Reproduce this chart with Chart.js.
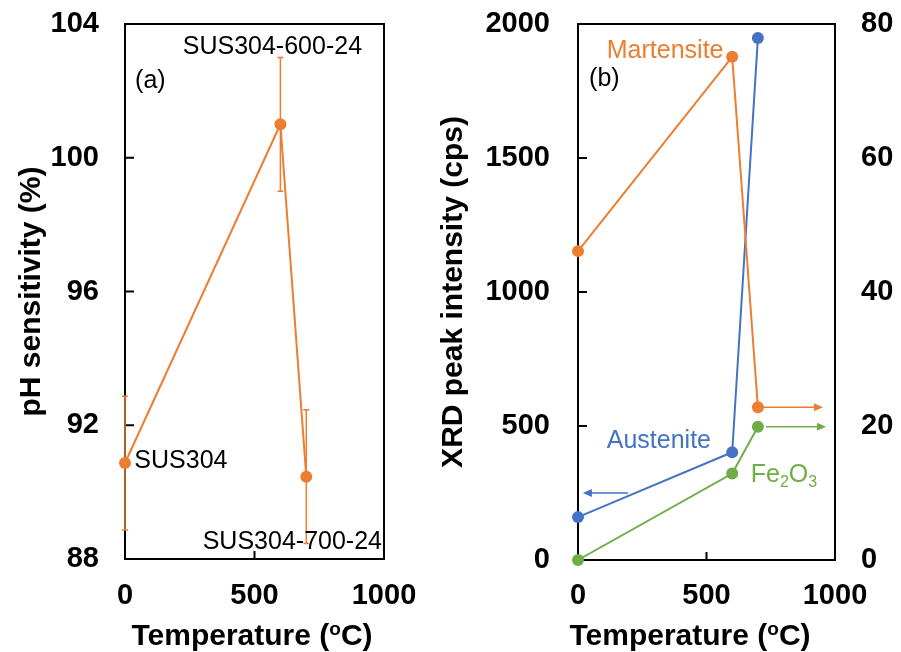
<!DOCTYPE html>
<html>
<head>
<meta charset="utf-8">
<script src="https://cdn.jsdelivr.net/npm/chart.js@4.4.0/dist/chart.umd.min.js"></script>
<style>
  html, body { margin: 0; padding: 0; background: #fff; }
  #wrap { position: relative; width: 901px; height: 652px; overflow: hidden; }
  canvas { position: absolute; top: 0; }
  #phChart { left: 0; }
  #xrdChart { left: 410px; }
</style>
</head>
<body>
<div id="wrap">
  <canvas id="phChart" width="450" height="652"></canvas>
  <canvas id="xrdChart" width="491" height="652"></canvas>
</div>
<script>
// (a) pH sensitivity of the annealed samples
const sampleTemps = [0, 600, 700];
const phSensitivity = [90.87, 101.0, 90.46];
const phError = [2.0, 2.0, 2.0];
const sampleNames = ['SUS304', 'SUS304-600-24', 'SUS304-700-24'];
const phTicks = [88, 92, 96, 100, 104];

// (b) XRD peak intensity
const xrdTemps = [0, 600, 700];
const austenite = [160, 402, 1948];      // left axis
const martensite = [46.1, 75.1, 22.8];   // right axis
const fe2o3 = [0, 12.9, 19.9];           // right axis
const tempTicks = [0, 500, 1000];
const xrdTicks = [0, 500, 1000, 1500, 2000];
const rightTicks = [0, 20, 40, 60, 80];

const ORANGE = '#ED7D31', BLUE = '#4472C4', GREEN = '#70AD47';
const FONT = "'Liberation Sans', Arial, sans-serif";
const tickFont = { family: FONT, size: 29, weight: 'bold' };
const titleFont = { family: FONT, size: 30, weight: 'bold' };

const fixTicks = list => scale => { scale.ticks = list.map(v => ({ value: v })); };
const plain = v => String(v);
const points = (xs, ys) => xs.map((x, i) => ({ x: x, y: ys[i] }));
// fixed axis width; drop the label overhang so the plot top stays where we put it
const vWidth = w => s => { s.width = w; s.paddingTop = 0; s.paddingBottom = 0; };

function lineSet(data, color, axis) {
  return {
    data: data, yAxisID: axis || 'y',
    borderColor: color, backgroundColor: color,
    borderWidth: 2, pointRadius: 6, pointHoverRadius: 6,
    pointBorderWidth: 0, tension: 0, clip: false
  };
}

// box round the plot and the inward tick marks
const framePlugin = {
  id: 'frame',
  beforeDatasetsDraw(chart) {
    const { ctx, chartArea: a, scales } = chart;
    ctx.save();
    ctx.strokeStyle = '#000';
    ctx.lineWidth = 2;
    ctx.strokeRect(a.left, a.top, a.right - a.left, a.bottom - a.top);
    ctx.beginPath();
    scales.y.ticks.forEach(t => {
      const py = scales.y.getPixelForValue(t.value);
      ctx.moveTo(a.left, py); ctx.lineTo(a.left + 9, py);
    });
    scales.x.ticks.forEach(t => {
      const px = scales.x.getPixelForValue(t.value);
      ctx.moveTo(px, a.bottom); ctx.lineTo(px, a.bottom - 8);
    });
    ctx.stroke();
    ctx.restore();
  }
};

// "Temperature (oC)" with a raised o
function tempTitle(centerX) {
  return {
    id: 'tempTitle',
    afterDraw(chart) {
      const ctx = chart.ctx;
      const big = 'bold 30px ' + FONT, small = 'bold 19px ' + FONT;
      const parts = [['Temperature (', big, 0], ['o', small, -10], ['C)', big, 0]];
      ctx.save();
      ctx.fillStyle = '#000';
      ctx.textBaseline = 'alphabetic';
      let w = 0;
      parts.forEach(p => { ctx.font = p[1]; w += ctx.measureText(p[0]).width; });
      let x = centerX - w / 2;
      parts.forEach(p => {
        ctx.font = p[1];
        ctx.fillText(p[0], x, 645 + p[2]);
        x += ctx.measureText(p[0]).width;
      });
      ctx.restore();
    }
  };
}

function putText(ctx, text, x, y, color, size) {
  ctx.font = (size || 25) + 'px ' + FONT;
  ctx.fillStyle = color;
  ctx.textBaseline = 'middle';
  ctx.textAlign = 'left';
  ctx.fillText(text, x, y);
}

function arrow(ctx, x1, x2, y, color) {
  const dir = x2 > x1 ? 1 : -1;
  ctx.strokeStyle = color; ctx.fillStyle = color; ctx.lineWidth = 1.5;
  ctx.beginPath(); ctx.moveTo(x1, y); ctx.lineTo(x2 - dir * 6, y); ctx.stroke();
  ctx.beginPath(); ctx.moveTo(x2, y); ctx.lineTo(x2 - dir * 9, y - 4); ctx.lineTo(x2 - dir * 9, y + 4);
  ctx.closePath(); ctx.fill();
}

const errorBars = {
  id: 'errorBars',
  beforeDatasetsDraw(chart) {
    const { ctx, scales: { x, y } } = chart;
    ctx.save();
    ctx.strokeStyle = ORANGE; ctx.lineWidth = 1.5;
    sampleTemps.forEach((t, i) => {
      const px = x.getPixelForValue(t);
      const hi = y.getPixelForValue(phSensitivity[i] + phError[i]);
      const lo = y.getPixelForValue(phSensitivity[i] - phError[i]);
      ctx.beginPath();
      ctx.moveTo(px, hi); ctx.lineTo(px, lo);
      ctx.moveTo(px - 3, hi); ctx.lineTo(px + 3, hi);
      ctx.moveTo(px - 3, lo); ctx.lineTo(px + 3, lo);
      ctx.stroke();
    });
    ctx.restore();
  }
};

const phNotes = {
  id: 'phNotes',
  afterDatasetsDraw(chart) {
    const { ctx, scales: { x, y } } = chart;
    ctx.save();
    putText(ctx, '(a)', x.getPixelForValue(39), y.getPixelForValue(102.3), '#000');
    putText(ctx, sampleNames[0], x.getPixelForValue(36), y.getPixelForValue(90.93), '#000');
    putText(ctx, sampleNames[1], x.getPixelForValue(223), y.getPixelForValue(103.31), '#000');
    putText(ctx, sampleNames[2], x.getPixelForValue(300), y.getPixelForValue(88.52), '#000');
    ctx.restore();
  }
};

const xrdNotes = {
  id: 'xrdNotes',
  afterDatasetsDraw(chart) {
    const { ctx, scales: { x, y, y1 } } = chart;
    ctx.save();
    putText(ctx, '(b)', x.getPixelForValue(43), y.getPixelForValue(1794), '#000');
    putText(ctx, 'Martensite', x.getPixelForValue(112), y.getPixelForValue(1899), ORANGE);
    putText(ctx, 'Austenite', x.getPixelForValue(112), y.getPixelForValue(442), BLUE);
    // Fe2O3 with subscripts
    let fx = x.getPixelForValue(672);
    const base = y.getPixelForValue(326) + 9;
    ctx.fillStyle = GREEN; ctx.textBaseline = 'alphabetic';
    [['Fe', 25, 0], ['2', 16, 5], ['O', 25, 0], ['3', 16, 5]].forEach(p => {
      ctx.font = p[1] + 'px ' + FONT;
      ctx.fillText(p[0], fx, base + p[2]);
      fx += ctx.measureText(p[0]).width;
    });
    arrow(ctx, x.getPixelForValue(720), x.getPixelForValue(953), y1.getPixelForValue(martensite[2]), ORANGE);
    arrow(ctx, x.getPixelForValue(731), x.getPixelForValue(965), y1.getPixelForValue(fe2o3[2]), GREEN);
    arrow(ctx, x.getPixelForValue(195), x.getPixelForValue(19), y.getPixelForValue(250), BLUE);
    ctx.restore();
  }
};

const axisBase = {
  grid: { display: false, drawTicks: false },
  border: { display: false }
};

new Chart(document.getElementById('phChart'), {
  type: 'line',
  data: { datasets: [lineSet(points(sampleTemps, phSensitivity), ORANGE)] },
  options: {
    responsive: false, animation: false,
    layout: { padding: { left: 0, top: 24, right: 66, bottom: 0 } },
    plugins: { legend: { display: false }, tooltip: { enabled: false } },
    scales: {
      x: Object.assign({}, axisBase, {
        type: 'linear', min: 0, max: 1000,
        afterBuildTicks: fixTicks(tempTicks),
        ticks: { font: tickFont, color: '#000', padding: 20, maxRotation: 0, callback: plain },
        afterFit: s => { s.height = 93; }
      }),
      y: Object.assign({}, axisBase, {
        min: 88, max: 104,
        afterBuildTicks: fixTicks(phTicks),
        ticks: { font: tickFont, color: '#000', padding: 26, callback: plain },
        title: { display: true, text: 'pH sensitivity (%)', color: '#000',
                 font: titleFont, padding: { top: 14, bottom: 0 } },
        afterFit: vWidth(125)
      })
    }
  },
  plugins: [framePlugin, errorBars, phNotes, tempTitle(252)]
});

new Chart(document.getElementById('xrdChart'), {
  type: 'line',
  data: {
    datasets: [
      lineSet(points(xrdTemps, martensite), ORANGE, 'y1'),
      lineSet(points(xrdTemps, austenite), BLUE, 'y'),
      lineSet(points(xrdTemps, fe2o3), GREEN, 'y1')
    ]
  },
  options: {
    responsive: false, animation: false,
    layout: { padding: { left: 0, top: 24, right: 0, bottom: 0 } },
    plugins: { legend: { display: false }, tooltip: { enabled: false } },
    scales: {
      x: Object.assign({}, axisBase, {
        type: 'linear', min: 0, max: 1000,
        afterBuildTicks: fixTicks(tempTicks),
        ticks: { font: tickFont, color: '#000', padding: 19, maxRotation: 0, callback: plain },
        afterFit: s => { s.height = 92; }
      }),
      y: Object.assign({}, axisBase, {
        position: 'left', min: 0, max: 2000,
        afterBuildTicks: fixTicks(xrdTicks),
        ticks: { font: tickFont, color: '#000', padding: 28, callback: plain },
        title: { display: true, text: 'XRD peak intensity (cps)', color: '#000',
                 font: titleFont, padding: { top: 26, bottom: 0 } },
        afterFit: vWidth(168)
      }),
      y1: Object.assign({}, axisBase, {
        position: 'right', min: 0, max: 80,
        afterBuildTicks: fixTicks(rightTicks),
        ticks: { font: tickFont, color: '#000', padding: 26, callback: plain },
        afterFit: vWidth(66)
      })
    }
  },
  plugins: [framePlugin, xrdNotes, tempTitle(280)]
});
</script>
</body>
</html>
